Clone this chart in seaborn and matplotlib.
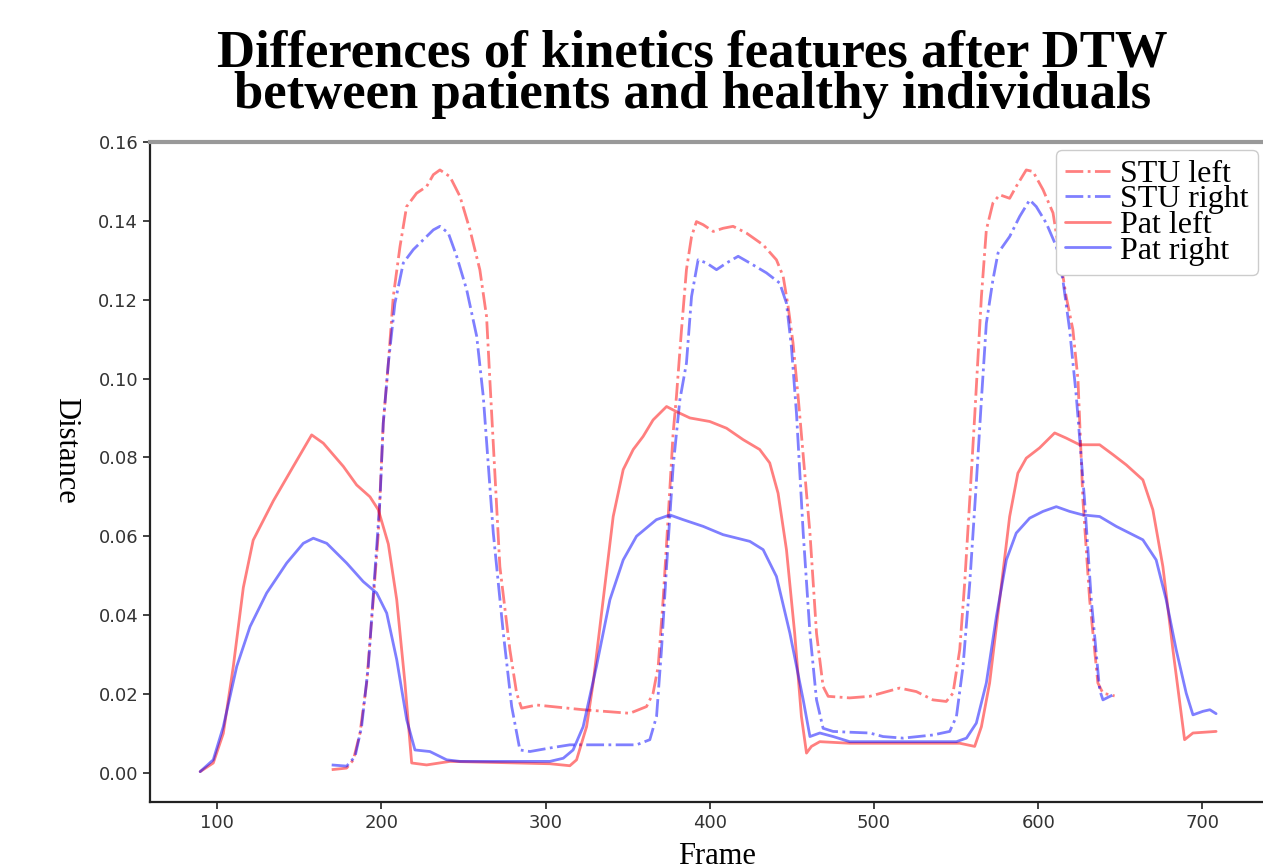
import pandas as pd
import numpy as np
import matplotlib
matplotlib.use("Agg")
import matplotlib.pyplot as plt
import seaborn as sns

# values
pat_left_x = [89.7, 97.7, 103.8, 109.9, 116, 122, 134.3, 146.4, 157.6, 164.7, 176.9, 185, 193.1, 198.2,
              204.3, 209.4, 214.4, 218.5, 227.6, 241.8, 282.4, 302.7, 314.8, 318.9, 325, 329, 335.1,
              341.2, 347.3, 353.4, 359.4, 365.5, 373.7, 379.7, 387.9, 400, 410.2, 420.3, 430.4, 436.5,
              441.6, 446.7, 451.7, 455.8, 458.9, 461.9, 467, 485.2, 552.2, 561.3, 565.4, 570.4, 576.5,
              582.6, 587.6, 592.7, 600.8, 610, 617, 625.2, 637.4, 645.5, 653.6, 663.7, 669.8, 675.9,
              682, 689.1, 694.2, 708.3]
pat_left_y = [0.0003, 0.0025, 0.010, 0.027, 0.047, 0.059, 0.069, 0.0777, 0.0857, 0.0836, 0.0777, 0.073,
              0.070, 0.0667, 0.058, 0.0439, 0.0228, 0.0025, 0.002, 0.0029, 0.0025, 0.0023, 0.0018, 0.0033,
              0.0117, 0.0228, 0.0439, 0.065, 0.0769, 0.082, 0.0853, 0.0895, 0.0929, 0.0916, 0.090, 0.0891,
              0.0874, 0.0845, 0.082, 0.0786, 0.0709, 0.0566, 0.0354, 0.0143, 0.005, 0.0067, 0.0079, 0.0075,
              0.0075, 0.0067, 0.0117, 0.0228, 0.0439, 0.065, 0.076, 0.0798, 0.0824, 0.0862, 0.0849, 0.0832,
              0.0832, 0.0807, 0.0781, 0.0743, 0.0667, 0.0523, 0.0312, 0.0084, 0.0101, 0.0105]

pat_right_x = [89.7, 97.7, 103.8, 112, 120.1, 130.2, 142.4, 152.5, 158.6, 166.8, 178.9, 189, 197.2, 203.3,
               209.4, 215.5, 220.5, 229.6, 239.8, 247.9, 302.7, 310.8, 316.8, 322.9, 331, 339.2, 347.3,
               355.4, 367.5, 375.7, 383.8, 396, 408.1, 424.4, 432.5, 440.6, 448.8, 456.9, 461, 467, 475.1,
               485.2, 550.2, 556.3, 562.3, 568.4, 574.5, 580.6, 586.6, 594.8, 602.9, 611, 619.1, 627.2,
               637.4, 647.5, 655.6, 663.7, 671.8, 677.9, 684, 690.1, 694.2, 700.3, 704.5, 708.3]
pat_right_y = [0.0003, 0.0033, 0.0117, 0.027, 0.0371, 0.0456, 0.0532, 0.0582, 0.0595, 0.0582, 0.0532,
               0.0485, 0.0456, 0.0405, 0.0287, 0.0134, 0.0058, 0.0054, 0.0033, 0.0029, 0.0029, 0.0037,
               0.0058, 0.0117, 0.027, 0.0439, 0.054, 0.060, 0.0642, 0.0654, 0.0642, 0.0625, 0.0604, 0.0587,
               0.0566, 0.0498, 0.0354, 0.0185, 0.0092, 0.0101, 0.0092, 0.0079, 0.0079, 0.0088, 0.0126,
               0.0228, 0.0396, 0.054, 0.0608, 0.0646, 0.0663, 0.0675, 0.0663, 0.0654, 0.065, 0.0625,
               0.0608, 0.0591, 0.054, 0.0439, 0.0312, 0.0202, 0.0147, 0.0156, 0.016, 0.015]

stu_left_x = [169.8, 178.9, 183, 187, 191.1, 195.1, 198.2, 201.2, 204.3, 207.3, 211.4, 215.4, 221.5,
              227.6, 231.7, 235.7, 241.8, 247.9, 254, 260, 264.1, 266.1, 272.2, 278.3, 282.4, 285.4,
              294.6, 322.9, 351.3, 361.5, 365.5, 368.6, 371.6, 374.7, 377.7, 379.7, 382.8, 385.8, 388.9,
              391.9, 396, 402.1, 408.1, 414.2, 422.3, 432.5, 440.6, 444.7, 447.7, 450.7, 453.8, 461, 465,
              469, 472.1, 485.2, 497.4, 515.6, 525.8, 535.9, 544, 548.1, 552.2, 555.2, 558.3, 561.3,
              565.4, 568.4, 572.4, 576.5, 582.6, 586.6, 592.7, 596.8, 602.9, 609, 617, 621.1, 624.2,
              627.2, 631.3, 636.3, 639.4, 646.5]
stu_left_y = [0.0008, 0.0012, 0.0033, 0.010, 0.0228, 0.0439, 0.0608, 0.0887, 0.1039, 0.1208, 0.1335,
              0.1436, 0.147, 0.1487, 0.1517, 0.1529, 0.1512, 0.1462, 0.1377, 0.1276, 0.1157, 0.0997,
              0.0523, 0.0312, 0.0202, 0.0164, 0.0172, 0.016, 0.0151, 0.0168, 0.0202, 0.027, 0.0439, 0.065,
              0.0862, 0.0954, 0.1124, 0.1276, 0.136, 0.1398, 0.139, 0.1373, 0.1381, 0.1386, 0.1369,
              0.1339, 0.1301, 0.1259, 0.1183, 0.109, 0.0954, 0.0608, 0.0354, 0.0219, 0.0194, 0.019,
              0.0194, 0.0215, 0.0206, 0.0185, 0.0181, 0.0202, 0.0312, 0.0481, 0.0692, 0.0904, 0.1208,
              0.1377, 0.1445, 0.1466, 0.1457, 0.1487, 0.1529, 0.1525, 0.1479, 0.142, 0.1208, 0.1124,
              0.0997, 0.0692, 0.0439, 0.0228, 0.0202, 0.0195]

stu_right_x = [169.8, 178.9, 184, 188, 192.1, 195.2, 199.2, 201.2, 204.3, 208.3, 213.4, 219.5, 225.6,
               231.7, 235.7, 240.8, 245.9, 252, 258.1, 262.1, 268.2, 274.3, 279.4, 284.4, 290.5, 302.7,
               314.8, 355.4, 363.5, 367.6, 370.6, 373.7, 377.7, 381.8, 385.8, 388.9, 392.9, 398, 404.1,
               410.2, 417.3, 424.4, 434.5, 442.6, 446.7, 449.7, 452.8, 456.9, 461, 465, 469, 475.1, 485.2,
               497.4, 505.5, 517.7, 535.9, 546.1, 550.2, 554.2, 558.3, 562.3, 565.4, 568.4, 572.4, 575.5,
               582.6, 588.7, 594.8, 598.8, 604.9, 611, 615, 619.1, 623.2, 628.2, 632.3, 637.4, 639.4, 647.5]
stu_right_y = [0.002, 0.0017, 0.0041, 0.0117, 0.027, 0.0456, 0.0692, 0.0887, 0.1039, 0.1191, 0.1293,
               0.1327, 0.1352, 0.1377, 0.1386, 0.1369, 0.131, 0.1225, 0.1107, 0.0954, 0.0608, 0.0354,
               0.0168, 0.0058, 0.0054, 0.0063, 0.0071, 0.0071, 0.0084, 0.0143, 0.0312, 0.0523, 0.0777,
               0.0946, 0.1039, 0.1208, 0.1301, 0.1293, 0.1276, 0.1293, 0.131, 0.1293, 0.1268, 0.1242,
               0.1191, 0.1081, 0.0912, 0.0608, 0.0354, 0.0185, 0.0113, 0.0105, 0.0103, 0.0101, 0.0092,
               0.0088, 0.0096, 0.0105, 0.0143, 0.027, 0.0481, 0.0735, 0.0946, 0.114, 0.125, 0.1318,
               0.136, 0.1411, 0.1453, 0.1436, 0.1394, 0.1335, 0.125, 0.1124, 0.0954, 0.0692, 0.0439,
               0.021, 0.0185, 0.0202]

x_ticks = [100, 200, 300, 400, 500, 600, 700]
y_ticks = [0.00, 0.02, 0.04, 0.06, 0.08, 0.10, 0.12, 0.14, 0.16]

sns.set_style("ticks")

fig = plt.figure(figsize=(12.63, 8.66), dpi=100)
ax = fig.add_axes([0.1188, 0.0739, 0.9113, 0.7622])

series = [
    ("STU left", stu_left_x, stu_left_y, "red", "-."),
    ("STU right", stu_right_x, stu_right_y, "blue", "-."),
    ("Pat left", pat_left_x, pat_left_y, "red", "-"),
    ("Pat right", pat_right_x, pat_right_y, "blue", "-"),
]
for name, xs, ys, col, ls in series:
    sns.lineplot(x=xs, y=ys, ax=ax, color=col, linestyle=ls, alpha=0.5,
                 linewidth=2, label=name, sort=False, estimator=None)

ax.set_xlim(59.2, 760)
ax.set_ylim(-0.0074, 0.16)
ax.set_xticks(x_ticks)
ax.set_yticks(y_ticks)
ax.set_yticklabels([f"{v:.2f}" for v in y_ticks])
ax.tick_params(labelsize=13, colors="#333333", length=5, width=1.3)

for s in ["left", "bottom"]:
    ax.spines[s].set_color("#222222")
    ax.spines[s].set_linewidth(1.6)
ax.spines["top"].set_color("#999999")
ax.spines["top"].set_linewidth(3)
ax.spines["right"].set_visible(False)

# axis labels (Distance reads top to bottom in the reference)
fig.text(0.0523, 0.4804, "Distance", rotation=270, ha="center", va="center",
         family="Liberation Serif", fontsize=22, color="black")
fig.text(0.5677, 0.0277, "Frame", ha="center", va="top",
         family="Liberation Serif", fontsize=22, color="black")

leg = ax.legend(loc="upper right", bbox_to_anchor=(1258 / 1263, 1 - 150 / 866),
                bbox_transform=fig.transFigure,
                prop={"family": "Liberation Serif", "size": 23},
                handlelength=1.4, labelspacing=-0.12, borderpad=0.3, handletextpad=0.3,
                fancybox=True, framealpha=1, edgecolor="#cccccc", borderaxespad=0)
for t in leg.get_texts():
    t.set_color("black")

fig.text(0.548, 0.966, "Differences of kinetics features after DTW\nbetween patients and healthy individuals",
         ha="center", va="top", family="Liberation Serif", fontweight="bold", fontsize=38,
         linespacing=0.82, color="black")

fig.savefig("out.png", dpi=100)
